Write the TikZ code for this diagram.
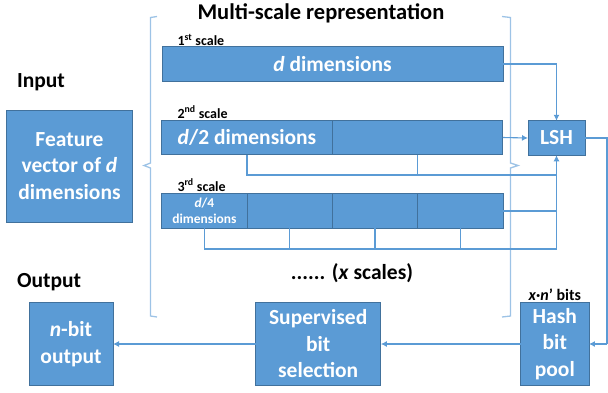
\documentclass[tikz,border=0pt]{standalone}
\usepackage{fontspec}
\setmainfont{Carlito}
\usetikzlibrary{arrows.meta,positioning,calc}
\definecolor{boxfill}{HTML}{5B9BD5}
\definecolor{boxline}{HTML}{41719C}
\definecolor{linkline}{HTML}{5B9BD5}
\definecolor{braceline}{HTML}{9DC3E6}
\tikzset{
  blockbox/.style={draw=boxline,fill=boxfill,line width=0.9pt,text=white,
    font=\fontsize{21.5}{26.5}\selectfont\bfseries,align=center,inner sep=0pt,outer sep=0pt},
  cellbox/.style={blockbox,minimum height=34.5pt},
  smallcell/.style={cellbox,minimum width=85.3pt,font=\fontsize{13.5}{15.5}\selectfont\bfseries},
  link/.style={draw=linkline,line width=1.1pt},
  linkarrow/.style={link,-{Latex[length=6pt,width=6pt]}},
  scalelabel/.style={font=\fontsize{14}{16}\selectfont\bfseries,anchor=west},
  headlabel/.style={font=\fontsize{21.5}{26}\selectfont\bfseries}
}
\begin{document}
\begin{tikzpicture}[x=1pt,y=-1pt]
\useasboundingbox (0,0) rectangle (608,392);
% bracket round the scales
\draw[braceline,line width=1.3pt] (157,16.5) -- (150.5,17.5) -- (150.5,163) -- (144,165.5)
  -- (150.5,168) -- (150.5,316) -- (157,317);
\draw[braceline,line width=1.3pt] (502,16.5) -- (510.5,17.5) -- (510.5,163) -- (518,165.5)
  -- (510.5,168) -- (510.5,316) -- (502,317);
\node[headlabel,font=\fontsize{22.5}{26}\selectfont\bfseries] (title) at (321,13)
  {Multi-scale representation};
\node[headlabel,anchor=west] (inlabel) at (13.5,82) {Input};
\node[headlabel,anchor=west] (outlabel) at (13.5,282) {Output};
% input and the scales
\node[blockbox,minimum width=126.5pt,minimum height=112pt] (feature) at (69.5,166)
  {Feature\\vector of \textit{d}\\dimensions};
\node[scalelabel] (labone) at (174,40) {1\textsuperscript{st} scale};
\node[cellbox,minimum width=341pt] (scaleone) at (332.5,64) {\textit{d} dimensions};
\node[scalelabel] (labtwo) at (174,112) {2\textsuperscript{nd} scale};
\node[cellbox,minimum width=170.5pt] (twoa) at (247,137.5) {\textit{d}/2 dimensions};
\node[cellbox,minimum width=170.5pt,right=0pt of twoa] (twob) {};
\node[scalelabel] (labthree) at (174,185) {3\textsuperscript{rd} scale};
\node[smallcell] (threea) at (204.4,211) {\textit{d}/4\\dimensions};
\node[smallcell,right=0pt of threea] (threeb) {};
\node[smallcell,right=0pt of threeb] (threec) {};
\node[smallcell,right=0pt of threec] (threed) {};
\node[headlabel] (more) at (352,273) {...... (\textit{x} scales)};
\node[cellbox,minimum width=57pt] (lsh) at (556.5,138) {LSH};
% output row
\node[blockbox,minimum width=68.3pt,minimum height=83.7pt] (hash) at (554.8,344)
  {Hash\\bit\\pool};
\node[scalelabel,anchor=south,font=\fontsize{16}{18}\selectfont\bfseries] (poolsize)
  at ([yshift=-2pt]hash.north) {\textit{x}·\textit{n}' bits};
\node[blockbox,minimum width=125.3pt,minimum height=83.7pt] (select) at (318.2,344)
  {Supervised\\bit\\selection};
\node[blockbox,minimum width=84pt,minimum height=83.7pt] (nbit) at (71,344)
  {\textit{n}-bit\\output};
% connectors
\coordinate (busone) at (556.5,175);
\coordinate (bustwo) at (556.5,249);
\coordinate (edgetop) at (607,138);
\coordinate (edgebot) at (607,344);
\draw[linkarrow] (scaleone.east) -| (lsh.north);
\draw[linkarrow] (twob.east) -- (lsh.west);
\draw[link] (twoa.south) |- (busone);
\draw[link] (twob.south) -- (twob.south |- busone);
\draw[link] (threea.south) |- (bustwo);
\foreach \cell in {threeb,threec,threed}
  \draw[link] (\cell.south) -- (\cell.south |- bustwo);
\draw[link] (threed.east) -- (threed.east -| bustwo);
\draw[linkarrow] (bustwo) -- (lsh.south);
\draw[link] (lsh.east) -- (edgetop) -- (edgebot);
\draw[linkarrow] (edgebot) -- (hash.east);
\draw[linkarrow] (hash.west) -- (select.east);
\draw[linkarrow] (select.west) -- (nbit.east);
\end{tikzpicture}
\end{document}
